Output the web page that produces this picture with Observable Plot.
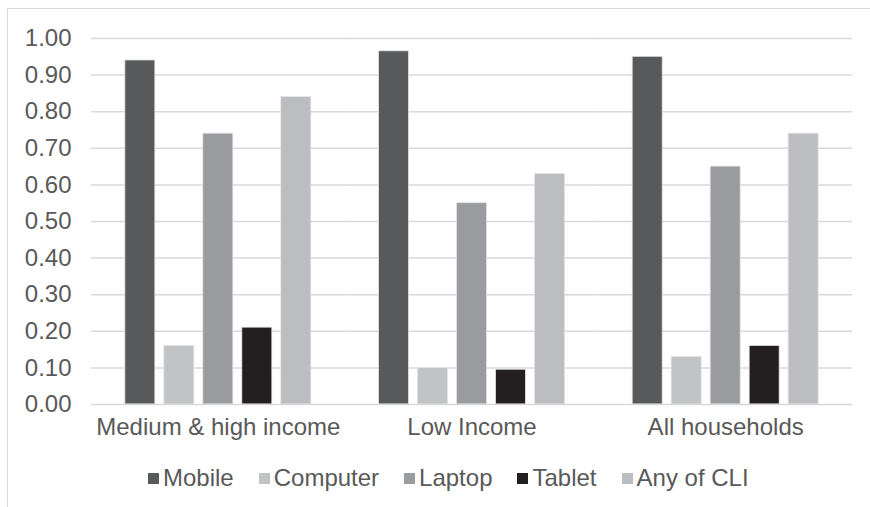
<!DOCTYPE html>
<html>
<head>
<meta charset="utf-8">
<script src="https://cdn.jsdelivr.net/npm/d3@7"></script>
<script src="https://cdn.jsdelivr.net/npm/@observablehq/plot@0.6"></script>
<style>
  html, body { margin: 0; padding: 0; background: #fff; width: 870px; height: 507px; overflow: hidden; }
  body { position: relative; font-family: "Liberation Sans", Arial, sans-serif; color: #595959; }
  #frame { position: absolute; left: 7px; top: 8px; width: 900px; height: 520px;
           border-left: 1.5px solid #d9d9d9; border-top: 1.5px solid #d9d9d9; box-sizing: border-box; }
  #chart { position: absolute; left: 0; top: 0; }
  #legend { position: absolute; left: 148px; top: 465px; display: flex; align-items: center;
            font-size: 24px; line-height: 26px; white-space: nowrap; }
  .item { display: flex; align-items: center; margin-right: 25px; }
  .sw { width: 11px; height: 11px; margin-right: 4px; }
</style>
</head>
<body>
<div id="frame"></div>
<div id="chart"></div>
<div id="legend"></div>
<script>
const groups = ["Medium & high income", "Low Income", "All households"];
const series = ["Mobile", "Computer", "Laptop", "Tablet", "Any of CLI"];
const mobile   = [0.94, 0.965, 0.95];
const computer = [0.16, 0.10, 0.13];
const laptop   = [0.74, 0.55, 0.65];
const tablet   = [0.21, 0.095, 0.16];
const anyCLI   = [0.84, 0.63, 0.74];
const colors = ["#58595b", "#c2c3c5", "#9a9b9e", "#231f20", "#bcbdc0"];
const yTicks = [0, 0.1, 0.2, 0.3, 0.4, 0.5, 0.6, 0.7, 0.8, 0.9, 1.0];

const valuesBySeries = [mobile, computer, laptop, tablet, anyCLI];
const data = [];
groups.forEach((g, gi) => {
  series.forEach((s, si) => {
    data.push({group: g, series: s, value: valuesBySeries[si][gi]});
  });
});

const chart = Plot.plot({
  width: 870,
  height: 450,
  marginTop: 38,
  marginBottom: 46,
  marginLeft: 91,
  marginRight: 18,
  style: {fontSize: "24px", fontFamily: "'Liberation Sans', Arial, sans-serif", color: "#595959", background: "transparent"},
  fx: {domain: groups, padding: 0, round: false, label: null, axis: "bottom", tickSize: 0, tickPadding: 13},
  x: {domain: series, axis: null, round: false, paddingInner: 0.23, paddingOuter: 0.868},
  y: {domain: [0, 1], ticks: yTicks, tickFormat: d3.format(".2f"), tickSize: 0, tickPadding: 20, label: null},
  color: {domain: series, range: colors},
  marks: [
    Plot.ruleY(yTicks.filter(d => d > 0), {stroke: "#d9d9d9", strokeWidth: 1.5}),
    Plot.barY(data, {fx: "group", x: "series", y: "value", fill: "series", stroke: "#e4e4e4", strokeWidth: 0.8}),
    Plot.ruleY([0], {stroke: "#d9d9d9", strokeWidth: 1.5})
  ]
});
document.getElementById("chart").appendChild(chart);

const legend = document.getElementById("legend");
series.forEach((s, i) => {
  const item = document.createElement("div");
  item.className = "item";
  const sw = document.createElement("div");
  sw.className = "sw";
  sw.style.background = colors[i];
  const label = document.createElement("span");
  label.textContent = s;
  item.appendChild(sw);
  item.appendChild(label);
  legend.appendChild(item);
});
</script>
</body>
</html>
